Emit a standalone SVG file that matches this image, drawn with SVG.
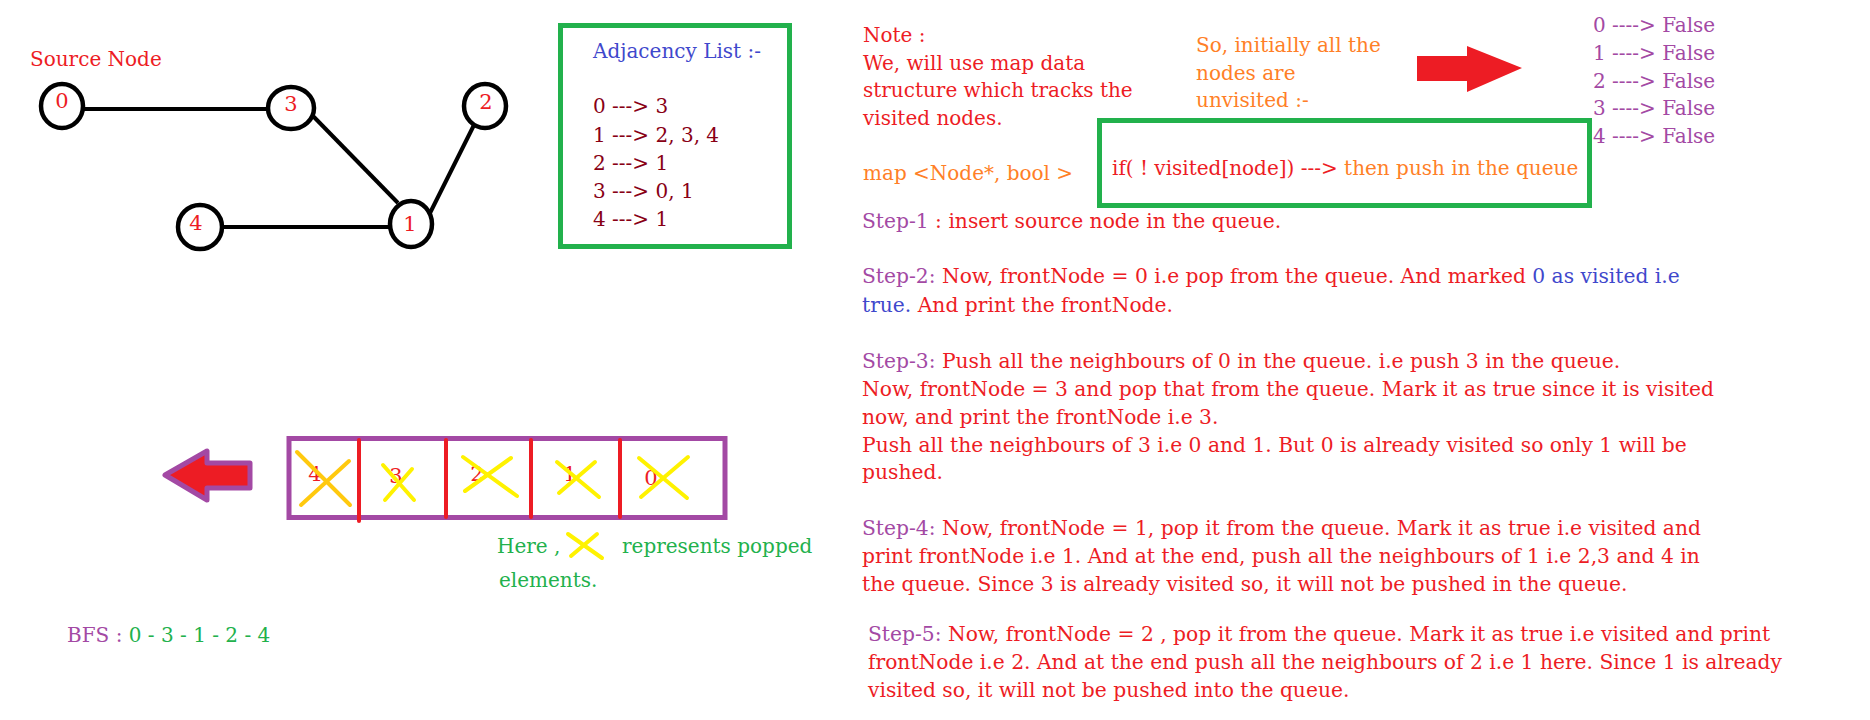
<svg xmlns="http://www.w3.org/2000/svg" width="1870" height="720" viewBox="0 0 1870 720">
<style>
.t{font-family:"DejaVu Serif","Liberation Serif",serif;font-size:20px}
.s{font-size:20.25px}
.red{fill:#ed1c24}.org{fill:#ff7f27}.pur{fill:#a349a4}.grn{fill:#22b14c}.blu{fill:#3f48cc}.drd{fill:#880015}
.circ{fill:#fff;stroke:#000;stroke-width:4.5}
.edge{stroke:#000;stroke-width:4;stroke-linecap:butt}
.nl{font-family:"DejaVu Serif","Liberation Serif",serif;font-size:21px;fill:#ed1c24;text-anchor:middle}
.gbox{fill:none;stroke:#22b14c;stroke-width:5}
.x{stroke-width:4;stroke-linecap:round;fill:none}
.div{stroke:#ed1c24;stroke-width:4;stroke-linecap:round}
</style>
<rect width="1870" height="720" fill="#fff"/>

<g id="connectors">
<line class="edge" x1="84" y1="109" x2="268" y2="109"/>
<line class="edge" x1="312" y1="115" x2="398" y2="203"/>
<line class="edge" x1="474" y1="125" x2="430" y2="213"/>
<line class="edge" x1="221" y1="227" x2="390" y2="227"/>
</g>

<text class="t red" x="30" y="66">Source Node</text>
<g id="node0"><ellipse class="circ" cx="62" cy="106" rx="21" ry="22"/><text class="nl" x="62" y="108">0</text></g>
<g id="node3"><ellipse class="circ" cx="291" cy="108" rx="23" ry="21"/><text class="nl" x="291" y="111">3</text></g>
<g id="node2"><ellipse class="circ" cx="485" cy="106" rx="21" ry="22"/><text class="nl" x="486" y="109">2</text></g>
<g id="node4"><ellipse class="circ" cx="200" cy="227" rx="22" ry="22"/><text class="nl" x="196" y="230">4</text></g>
<g id="node1"><ellipse class="circ" cx="411" cy="224" rx="21" ry="23"/><text class="nl" x="410" y="231">1</text></g>

<g id="adjacency">
<rect class="gbox" x="560.5" y="25.5" width="229" height="221"/>
<text class="t blu" x="593" y="58">Adjacency List :-</text>
<text class="t drd" x="593" y="113">0 ---&gt; 3</text>
<text class="t drd" x="593" y="142">1 ---&gt; 2, 3, 4</text>
<text class="t drd" x="593" y="170">2 ---&gt; 1</text>
<text class="t drd" x="593" y="198">3 ---&gt; 0, 1</text>
<text class="t drd" x="593" y="226">4 ---&gt; 1</text>
</g>

<g id="note">
<text class="t red" x="863" y="42">Note :</text>
<text class="t red" x="863" y="70">We, will use map data</text>
<text class="t red" x="863" y="97">structure which tracks the</text>
<text class="t red" x="863" y="125">visited nodes.</text>
<text class="t org" x="863" y="180">map &lt;Node*, bool &gt;</text>
</g>

<g id="initially">
<text class="t org" x="1196" y="52">So, initially all the</text>
<text class="t org" x="1196" y="80">nodes are</text>
<text class="t org" x="1196" y="107">unvisited :-</text>
</g>

<g id="right-arrow">
<path d="M1417 56 H1467 V46 L1522 68 L1467 92 V81 H1417 Z" fill="#ed1c24"/>
</g>

<g id="visited-map">
<text class="t pur" x="1593" y="32">0 ----&gt; False</text>
<text class="t pur" x="1593" y="60">1 ----&gt; False</text>
<text class="t pur" x="1593" y="88">2 ----&gt; False</text>
<text class="t pur" x="1593" y="115">3 ----&gt; False</text>
<text class="t pur" x="1593" y="143">4 ----&gt; False</text>
</g>

<g id="condition">
<rect class="gbox" x="1099.5" y="120.5" width="490" height="85"/>
<text class="t" x="1112" y="175"><tspan class="red">if( ! visited[node]) ---&gt; </tspan><tspan class="org">then push in the queue</tspan></text>
</g>

<g id="queue">
<rect x="289" y="438.5" width="436" height="79" fill="#fff" stroke="#a349a4" stroke-width="5"/>
<line class="div" x1="359" y1="440" x2="359" y2="521"/>
<line class="div" x1="446" y1="440" x2="446" y2="517"/>
<line class="div" x1="531" y1="440" x2="531" y2="517"/>
<line class="div" x1="620" y1="440" x2="620" y2="517"/>
<text class="nl" x="315" y="481">4</text>
<text class="nl" x="396" y="483">3</text>
<text class="nl" x="477" y="481">2</text>
<text class="nl" x="570" y="481">1</text>
<text class="nl" x="651" y="485">0</text>
<path class="x" stroke="#ffc90e" d="M297 452 L350 505 M301 505 L349 461"/>
<path class="x" stroke="#fff200" d="M383 465 L414 500 M385 500 L412 469"/>
<path class="x" stroke="#fff200" d="M463 457 L517 496 M465 491 L511 458"/>
<path class="x" stroke="#fff200" d="M557 462 L599 497 M559 493 L595 462"/>
<path class="x" stroke="#fff200" d="M639 458 L687 498 M641 497 L688 457"/>
</g>

<g id="left-arrow">
<path d="M165 475 L207 451 V463 H250 V488 H207 V500 Z" fill="#ed1c24" stroke="#a349a4" stroke-width="5" stroke-linejoin="round"/>
</g>

<g id="legend">
<text class="t grn" x="497" y="553">Here ,</text>
<path class="x" stroke="#fff200" stroke-width="5" d="M568 534 L602 558 M571 556 L597 534"/>
<text class="t grn" x="622" y="553">represents popped</text>
<text class="t grn" x="499" y="587">elements.</text>
</g>

<g id="bfs">
<text class="t" x="67" y="642"><tspan class="pur">BFS : </tspan><tspan class="grn">0 - 3 - 1 - 2 - 4</tspan></text>
</g>

<g id="steps">
<text class="t s" x="862" y="228"><tspan class="pur">Step-1</tspan><tspan class="red"> : insert source node in the queue.</tspan></text>
<text class="t s" x="862" y="283"><tspan class="pur">Step-2:</tspan><tspan class="red"> Now, frontNode = 0 i.e pop from the queue. And marked </tspan><tspan class="blu">0 as visited i.e</tspan></text>
<text class="t s" x="862" y="312"><tspan class="blu">true.</tspan><tspan class="red"> And print the frontNode.</tspan></text>
<text class="t s" x="862" y="368"><tspan class="pur">Step-3:</tspan><tspan class="red"> Push all the neighbours of 0 in the queue. i.e push 3 in the queue.</tspan></text>
<text class="t s red" x="862" y="396">Now, frontNode = 3 and pop that from the queue. Mark it as true since it is visited</text>
<text class="t s red" x="862" y="424">now, and print the frontNode i.e 3.</text>
<text class="t s red" x="862" y="452">Push all the neighbours of 3 i.e 0 and 1. But 0 is already visited so only 1 will be</text>
<text class="t s red" x="862" y="479">pushed.</text>
<text class="t s" x="862" y="535"><tspan class="pur">Step-4:</tspan><tspan class="red"> Now, frontNode = 1, pop it from the queue. Mark it as true i.e visited and</tspan></text>
<text class="t s red" x="862" y="563">print frontNode i.e 1. And at the end, push all the neighbours of 1 i.e 2,3 and 4 in</text>
<text class="t s red" x="862" y="591">the queue. Since 3 is already visited so, it will not be pushed in the queue.</text>
<text class="t s" x="868" y="641"><tspan class="pur">Step-5:</tspan><tspan class="red"> Now, frontNode = 2 , pop it from the queue. Mark it as true i.e visited and print</tspan></text>
<text class="t s red" x="868" y="669">frontNode i.e 2. And at the end push all the neighbours of 2 i.e 1 here. Since 1 is already</text>
<text class="t s red" x="868" y="697">visited so, it will not be pushed into the queue.</text>
</g>
</svg>
